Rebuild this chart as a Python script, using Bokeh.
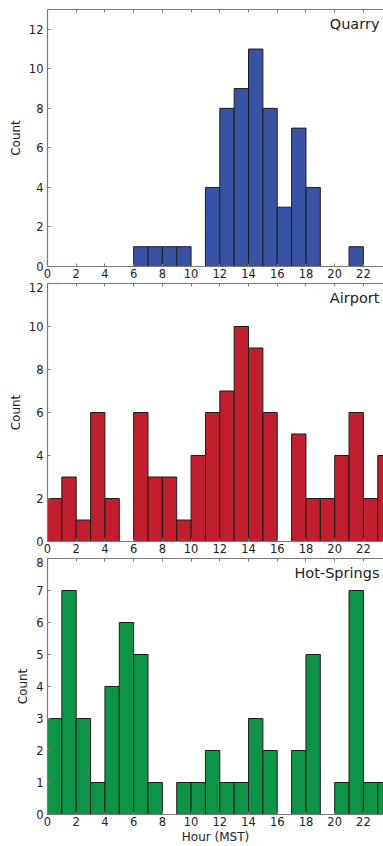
from bokeh.plotting import figure
from bokeh.models import LinearAxis, Label, Range1d, FixedTicker, ColumnDataSource
from bokeh.layouts import column
from bokeh.embed import file_html
from bokeh.resources import INLINE

hours = list(range(24))
quarry = [0, 0, 0, 0, 0, 0, 1, 1, 1, 1, 0, 4, 8, 9, 11, 8, 3, 7, 4, 0, 0, 1, 0, 0]
airport = [2, 3, 1, 6, 2, 0, 6, 3, 3, 1, 4, 6, 7, 10, 9, 6, 0, 5, 2, 2, 4, 6, 2, 4]
hot_springs = [3, 7, 3, 1, 4, 6, 5, 1, 0, 1, 1, 2, 1, 1, 3, 2, 0, 2, 5, 0, 1, 7, 1, 1]

x_ticks = list(range(0, 24, 2))
quarry_yticks = [0, 2, 4, 6, 8, 10, 12]
airport_yticks = [0, 2, 4, 6, 8, 10, 12]
hot_yticks = [0, 1, 2, 3, 4, 5, 6, 7, 8]

FONT = "DejaVu Sans"
SPINE = "#7a7a7a"
TXT = "#222222"


def style_axis(ax):
    ax.major_tick_in = 3
    ax.major_tick_out = 0
    ax.minor_tick_in = 0
    ax.minor_tick_out = 0
    ax.axis_line_color = SPINE
    ax.axis_line_width = 1.2
    ax.major_tick_line_color = SPINE
    ax.major_label_text_font = FONT
    ax.major_label_text_font_size = "11.5px"
    ax.major_label_text_color = TXT
    ax.major_label_standoff = 2


def panel(name, counts, color, ymax, yticks, height, top, bottom, xlabel=None):
    p = figure(width=383, height=height, x_range=Range1d(0, 23.40),
               y_range=Range1d(0, ymax), output_backend="svg",
               toolbar_location=None, min_border_left=47, min_border_right=0,
               min_border_top=top, min_border_bottom=bottom,
               outline_line_color=None, background_fill_color="white")
    p.grid.visible = False
    xs = [h for h, c in zip(hours, counts) if c > 0]
    cs = [c for c in counts if c > 0]
    src = ColumnDataSource(dict(left=xs, right=[x + 1 for x in xs], top=cs))
    p.quad(left="left", right="right", top="top", bottom=0, source=src,
           fill_color=color, line_color="#1e1e1e", line_width=1)

    xa = p.xaxis[0]
    style_axis(xa)
    xa.ticker = FixedTicker(ticks=x_ticks)
    if xlabel:
        xa.axis_label = xlabel
        xa.axis_label_text_font = FONT
        xa.axis_label_text_font_size = "12px"
        xa.axis_label_text_font_style = "normal"
        xa.axis_label_text_color = TXT
        xa.axis_label_standoff = 1

    ya = p.yaxis[0]
    style_axis(ya)
    ya.major_label_standoff = 4
    ya.ticker = FixedTicker(ticks=yticks)
    ya.axis_label = "Count"
    ya.axis_label_text_font = FONT
    ya.axis_label_text_font_size = "12px"
    ya.axis_label_text_font_style = "normal"
    ya.axis_label_text_color = TXT
    ya.axis_label_standoff = 3

    top_ax = LinearAxis(ticker=FixedTicker(ticks=x_ticks))
    style_axis(top_ax)
    top_ax.major_label_overrides = {t: "" for t in x_ticks}
    top_ax.major_label_text_font_size = "1px"
    top_ax.major_label_standoff = 0
    p.add_layout(top_ax, "above")

    p.add_layout(Label(x=23.12, y=ymax * 0.945, text=name, text_align="right",
                       text_baseline="middle", text_font=FONT,
                       text_font_size="14.5px", text_color=TXT))
    return p


p1 = panel("Quarry", quarry, "#3953a4", 13, quarry_yticks, 282, 9, 16)
p2 = panel("Airport", airport, "#c11e2e", 12, airport_yticks, 275, 1, 16)
p3 = panel("Hot-Springs", hot_springs, "#0e9446", 8, hot_yticks, 289, 1, 30,
           xlabel="Hour (MST)")

layout = column(p1, p2, p3, spacing=0)

open("out.html", "w").write(file_html(layout, INLINE))
